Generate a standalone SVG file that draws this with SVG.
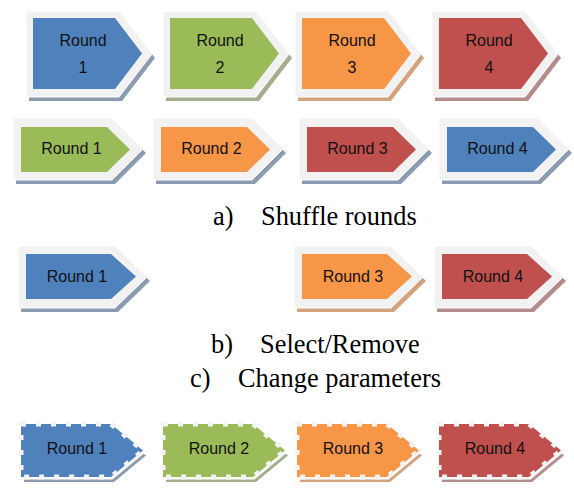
<svg xmlns="http://www.w3.org/2000/svg" xmlns:xlink="http://www.w3.org/1999/xlink" width="574" height="488" viewBox="0 0 574 488">
<style>
.lbl{font-family:"Liberation Sans",Arial,sans-serif;font-size:16px;fill:#111;text-anchor:middle}
.cap{font-family:"Liberation Serif","Times New Roman",serif;font-size:26.4px;fill:#000}
.frame{fill:#f2f2f2;stroke:#ffffff;stroke-width:1}
.blue{fill:#4f81bd}.green{fill:#9bbb59}.orange{fill:#f79646}.red{fill:#c0504d}
.sb{fill:#8d9bb0}.sg{fill:#a4ad8c}.so{fill:#d4a27e}.sr{fill:#b58c8c}
.dash{stroke:#f4f4f4;stroke-width:5;stroke-dasharray:5 10}
</style>
<defs>
<path id="f1" d="M0,0 H82 L109,35.5 L82,71 H0 Z"/>
<path id="o1" d="M-7,-7 H86 L119,36 L86,79 H-7 Z"/>
<path id="f2" d="M0,0 H86 L109,22.5 L86,45 H0 Z"/>
<path id="o2" d="M-8,-9 H91 L122,22 L91,53 H-8 Z"/>
<path id="f3" d="M0,0 H85 L110,22.5 L85,45 H0 Z"/>
<path id="o3" d="M-8,-8 H89 L121,23 L89,54 H-8 Z"/>
<path id="f4" d="M0,0 H90 L122,26.5 L90,53 H0 Z"/>
</defs>

<g id="r1n1" transform="translate(33,18)">
<use xlink:href="#o1" class="sb" transform="translate(3,4)"/>
<use xlink:href="#o1" class="frame"/>
<use xlink:href="#f1" class="blue"/>
<text class="lbl" x="50" y="28">Round</text><text class="lbl" x="50" y="55">1</text>
</g>
<g id="r1n2" transform="translate(170,18)">
<use xlink:href="#o1" class="sg" transform="translate(3,4)"/>
<use xlink:href="#o1" class="frame"/>
<use xlink:href="#f1" class="green"/>
<text class="lbl" x="50" y="28">Round</text><text class="lbl" x="50" y="55">2</text>
</g>
<g id="r1n3" transform="translate(302,18)">
<use xlink:href="#o1" class="so" transform="translate(3,4)"/>
<use xlink:href="#o1" class="frame"/>
<use xlink:href="#f1" class="orange"/>
<text class="lbl" x="50" y="28">Round</text><text class="lbl" x="50" y="55">3</text>
</g>
<g id="r1n4" transform="translate(439,18)">
<use xlink:href="#o1" class="sr" transform="translate(3,4)"/>
<use xlink:href="#o1" class="frame"/>
<use xlink:href="#f1" class="red"/>
<text class="lbl" x="50" y="28">Round</text><text class="lbl" x="50" y="55">4</text>
</g>

<g id="r2n1" transform="translate(21,127)">
<use xlink:href="#o2" class="sb" transform="translate(3,4)"/>
<use xlink:href="#o2" class="frame"/>
<use xlink:href="#f2" class="green"/>
<text class="lbl" x="50.5" y="27">Round 1</text>
</g>
<g id="r2n2" transform="translate(161,127)">
<use xlink:href="#o2" class="sb" transform="translate(3,4)"/>
<use xlink:href="#o2" class="frame"/>
<use xlink:href="#f2" class="orange"/>
<text class="lbl" x="50.5" y="27">Round 2</text>
</g>
<g id="r2n3" transform="translate(307,127)">
<use xlink:href="#o2" class="sb" transform="translate(3,4)"/>
<use xlink:href="#o2" class="frame"/>
<use xlink:href="#f2" class="red"/>
<text class="lbl" x="50.5" y="27">Round 3</text>
</g>
<g id="r2n4" transform="translate(447,127)">
<use xlink:href="#o2" class="sb" transform="translate(3,4)"/>
<use xlink:href="#o2" class="frame"/>
<use xlink:href="#f2" class="blue"/>
<text class="lbl" x="50.5" y="27">Round 4</text>
</g>

<text class="cap" x="213" y="225">a)</text>
<text class="cap" x="261" y="225">Shuffle rounds</text>

<g id="r3n1" transform="translate(26,254)">
<use xlink:href="#o3" class="sb" transform="translate(3,4)"/>
<use xlink:href="#o3" class="frame"/>
<use xlink:href="#f3" class="blue"/>
<text class="lbl" x="51" y="28">Round 1</text>
</g>
<g id="r3n3" transform="translate(302,254)">
<use xlink:href="#o3" class="so" transform="translate(3,4)"/>
<use xlink:href="#o3" class="frame"/>
<use xlink:href="#f3" class="orange"/>
<text class="lbl" x="51" y="28">Round 3</text>
</g>
<g id="r3n4" transform="translate(442,254)">
<use xlink:href="#o3" class="sr" transform="translate(3,4)"/>
<use xlink:href="#o3" class="frame"/>
<use xlink:href="#f3" class="red"/>
<text class="lbl" x="51" y="28">Round 4</text>
</g>

<text class="cap" x="211" y="353">b)</text>
<text class="cap" x="260" y="353">Select/Remove</text>
<text class="cap" x="190" y="387">c)</text>
<text class="cap" x="238" y="387">Change parameters</text>

<g id="r4n1" transform="translate(21,424)">
<use xlink:href="#f4" class="sb" transform="translate(3,5)"/>
<use xlink:href="#f4" fill="#ffffff" transform="translate(1.5,2.5)"/>
<use xlink:href="#f4" class="blue dash"/>
<text class="lbl" x="56" y="30">Round 1</text>
</g>
<g id="r4n2" transform="translate(163,424)">
<use xlink:href="#f4" class="sg" transform="translate(3,5)"/>
<use xlink:href="#f4" fill="#ffffff" transform="translate(1.5,2.5)"/>
<use xlink:href="#f4" class="green dash"/>
<text class="lbl" x="56" y="30">Round 2</text>
</g>
<g id="r4n3" transform="translate(297,424)">
<use xlink:href="#f4" class="so" transform="translate(3,5)"/>
<use xlink:href="#f4" fill="#ffffff" transform="translate(1.5,2.5)"/>
<use xlink:href="#f4" class="orange dash"/>
<text class="lbl" x="56" y="30">Round 3</text>
</g>
<g id="r4n4" transform="translate(439,424)">
<use xlink:href="#f4" class="sr" transform="translate(3,5)"/>
<use xlink:href="#f4" fill="#ffffff" transform="translate(1.5,2.5)"/>
<use xlink:href="#f4" class="red dash"/>
<text class="lbl" x="56" y="30">Round 4</text>
</g>
<g id="connectors"/>
</svg>
